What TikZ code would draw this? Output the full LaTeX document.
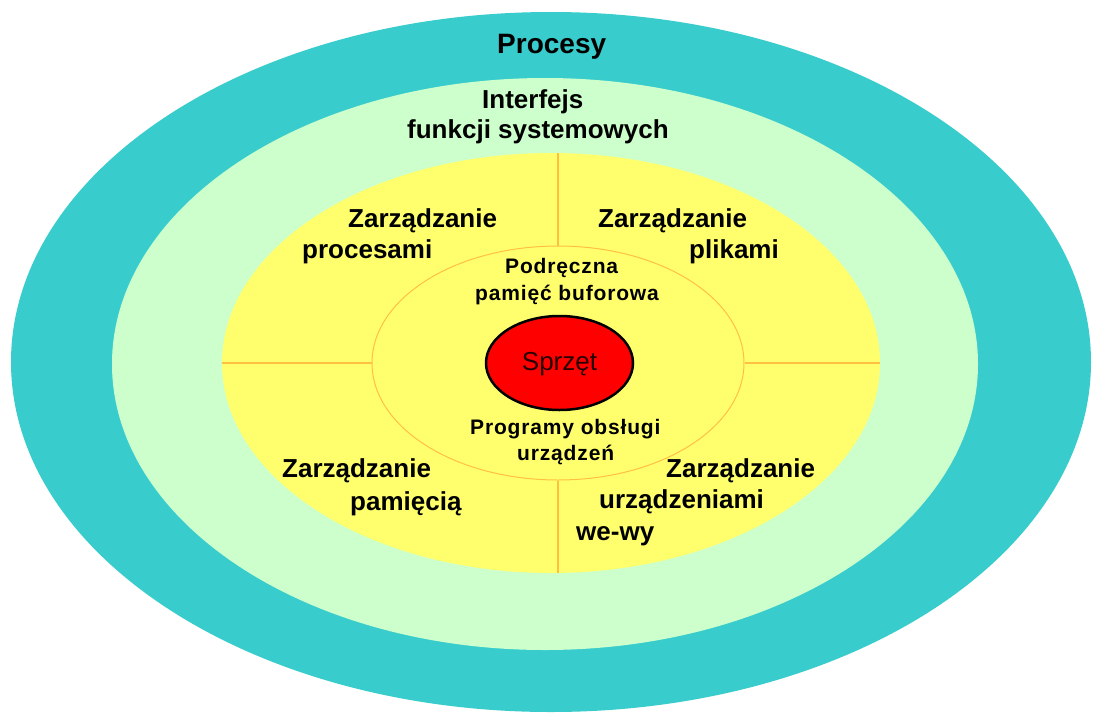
\documentclass[tikz,border=0pt]{standalone}
\usepackage{fontspec}
\setmainfont{Liberation Sans}
\usetikzlibrary{shapes.geometric}
\definecolor{teal1}{HTML}{38CCCC}
\definecolor{green1}{HTML}{CCFFCC}
\definecolor{yellow1}{HTML}{FFFF6E}
\definecolor{orange1}{HTML}{FFC040}
\definecolor{red1}{HTML}{FF0000}
\tikzset{
  ring/.style={ellipse, inner sep=0pt, draw=none},
  lbl/.style={anchor=base west, inner sep=0pt, font=\fontsize{26}{30}\selectfont\bfseries},
  small/.style={anchor=base west, inner sep=0pt, font=\fontsize{21}{25}\selectfont\bfseries\addfontfeatures{LetterSpace=4}},
  divider/.style={draw=orange1, line width=2.5pt},
}
\begin{document}
\begin{tikzpicture}[x=1pt, y=-1pt]
\useasboundingbox (0,0) rectangle (1096,713);
\fill[white] (0,0) rectangle (1096,713);
\node[ring, fill=teal1, minimum width=1080pt, minimum height=700pt] (outer) at (551,362) {};
\node[ring, fill=green1, minimum width=866pt, minimum height=572pt] (iface) at (545,364) {};
\node[ring, fill=yellow1, minimum width=658pt, minimum height=420pt] (kernel) at (551,363) {};
\node[ring, draw=orange1, line width=1pt, minimum width=372pt, minimum height=234pt] (inner) at (558,363) {};
\node[ring, fill=red1, draw=black, line width=2.5pt, minimum width=147pt, minimum height=94pt] (hw) at (559.5,363) {};
\draw[divider] (inner.north) -- (inner.north |- kernel.north);
\draw[divider] (inner.south) -- (inner.south |- kernel.south);
\draw[divider] (kernel.west) -- (inner.west);
\draw[divider] (inner.east) -- (kernel.east);

\node[lbl, font=\fontsize{28}{32}\selectfont\bfseries] (procesy) at (497,53) {Procesy};
\node[lbl] (if1) at (482,108) {Interfejs};
\node[lbl] (if2) at (407,138) {funkcji systemowych};
\node[lbl] (zp1) at (348,227) {Zarządzanie};
\node[lbl] (zp2) at (302,258) {procesami};
\node[lbl] (zf1) at (598,227) {Zarządzanie};
\node[lbl] (zf2) at (689,258) {plikami};
\node[lbl] (zm1) at (282,477) {Zarządzanie};
\node[lbl] (zm2) at (350,510) {pamięcią};
\node[lbl] (zd1) at (666,477) {Zarządzanie};
\node[lbl] (zd2) at (599,508) {urządzeniami};
\node[lbl] (zd3) at (576,540) {we-wy};
\node[small] (c1) at (505,273) {Podręczna};
\node[small] (c2) at (475,300) {pamięć buforowa};
\node[small] (d1) at (470,434) {Programy obsługi};
\node[small] (d2) at (517,460) {urządzeń};
\node[anchor=base, inner sep=0pt, font=\fontsize{26}{30}\selectfont, text=black!85!red] (hwl) at (559.5,370) {Sprzęt};
\end{tikzpicture}
\end{document}
